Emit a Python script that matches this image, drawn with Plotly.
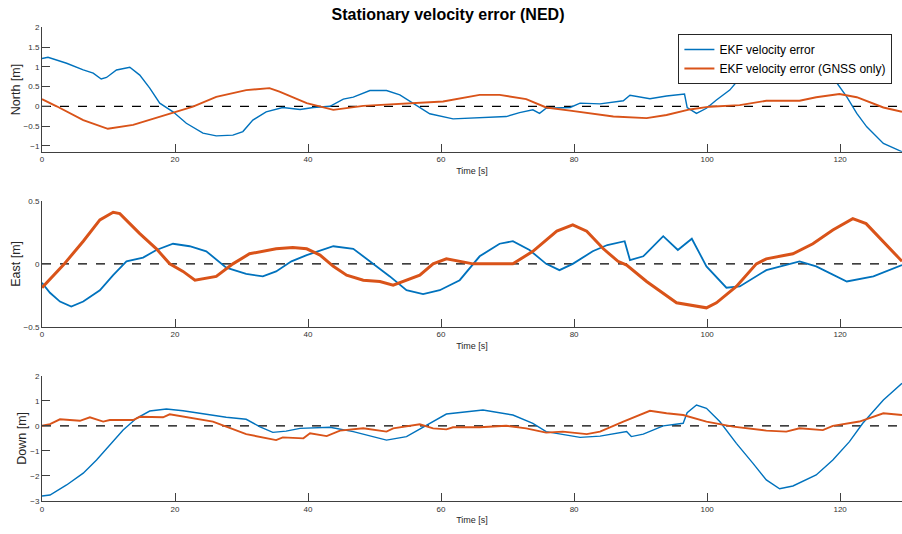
import plotly.graph_objects as go

# ---- North velocity error [m] ----
north_ekf_t = [0, 0.9, 3.7, 6.2, 7.7, 8.9, 9.7, 11.2, 13.2, 14.7, 16.2, 17.7, 19.7, 21.7, 24.2,
               26.2, 28.7, 30.2, 31.7, 33.7, 36.2, 38.8, 40.8, 43.3, 45.3, 46.8, 49.3, 51.8,
               53.8, 55.8, 58.3, 61.8, 65.8, 69.8, 71.8, 73.8, 74.8, 75.8, 79.4, 80.9, 83.9,
               87.4, 88.4, 91.4, 93.9, 96.6, 97.0, 98.4, 99.9, 101.4, 103.4, 104.9, 106.4,
               109.0, 112.0, 114.5, 116.7, 119.0, 121.0, 122.5, 124.0, 126.5, 129.3]
north_ekf_v = [1.21, 1.24, 1.09, 0.92, 0.84, 0.69, 0.73, 0.92, 0.99, 0.79, 0.46, 0.08, -0.14,
               -0.43, -0.68, -0.75, -0.73, -0.64, -0.35, -0.14, -0.03, -0.08, -0.03, 0.0, 0.18,
               0.23, 0.40, 0.40, 0.29, 0.08, -0.19, -0.32, -0.29, -0.26, -0.16, -0.09, -0.18,
               -0.05, -0.03, 0.08, 0.06, 0.14, 0.28, 0.19, 0.26, 0.31, -0.03, -0.18, -0.05,
               0.16, 0.41, 0.71, 1.09, 1.45, 1.65, 1.45, 1.0, 0.71, 0.24, -0.18, -0.52, -0.94,
               -1.15]

north_gnss_t = [0, 2.2, 6.2, 9.9, 13.7, 18.7, 22.7, 26.2, 30.7, 34.2, 35.7, 39.8, 43.8, 48.3,
                55.8, 60.3, 65.8, 68.8, 72.8, 75.8, 79.4, 83.9, 85.9, 90.9, 93.9, 97.4, 100.4,
                104.9, 108.9, 113.9, 116.4, 119.9, 122.5, 126.5, 129.3]
north_gnss_v = [0.18, 0.0, -0.35, -0.57, -0.47, -0.22, -0.01, 0.24, 0.41, 0.46, 0.37, 0.08,
                -0.09, 0.01, 0.08, 0.12, 0.29, 0.29, 0.18, -0.03, -0.11, -0.22, -0.26, -0.30,
                -0.22, -0.08, -0.01, 0.03, 0.14, 0.14, 0.23, 0.31, 0.23, -0.03, -0.14]

# ---- East velocity error [m] ----
east_ekf_t = [0, 1.2, 2.7, 4.4, 6.2, 8.7, 10.7, 12.7, 15.2, 17.2, 19.7, 22.2, 24.7, 27.7, 30.7,
              33.2, 35.2, 37.5, 39.8, 43.8, 46.8, 49.8, 52.3, 54.8, 57.3, 59.8, 62.8, 65.8,
              68.8, 70.8, 73.3, 75.8, 77.8, 79.8, 82.8, 85.0, 87.6, 88.4, 90.4, 93.4, 95.6,
              97.7, 99.9, 102.9, 104.9, 108.9, 113.9, 116.4, 121.0, 125.0, 129.3]
east_ekf_v = [-0.15, -0.23, -0.30, -0.34, -0.30, -0.21, -0.09, 0.02, 0.05, 0.11, 0.16, 0.14,
              0.10, -0.03, -0.08, -0.10, -0.06, 0.02, 0.07, 0.14, 0.12, 0.00, -0.10, -0.21,
              -0.24, -0.21, -0.13, 0.06, 0.16, 0.18, 0.11, 0.00, -0.05, 0.00, 0.10, 0.15, 0.18,
              0.03, 0.06, 0.22, 0.11, 0.20, -0.02, -0.19, -0.18, -0.05, 0.02, -0.02, -0.14,
              -0.10, -0.01]

east_gnss_t = [0, 3.2, 6.2, 8.7, 10.7, 11.7, 14.7, 17.2, 19.2, 21.2, 23.0, 26.2, 28.7, 31.2,
               35.2, 37.7, 39.8, 41.8, 43.8, 45.8, 48.3, 50.8, 52.8, 56.8, 58.8, 60.8, 64.8,
               70.8, 73.8, 77.4, 79.8, 81.9, 84.4, 86.6, 87.9, 90.9, 95.4, 99.9, 101.4, 104.4,
               107.4, 108.9, 112.9, 115.9, 118.9, 121.9, 123.9, 126.9, 129.3]
east_gnss_v = [-0.19, -0.01, 0.18, 0.35, 0.41, 0.40, 0.24, 0.12, 0.00, -0.06, -0.13, -0.10,
               0.00, 0.08, 0.12, 0.13, 0.12, 0.07, -0.02, -0.09, -0.13, -0.14, -0.17, -0.09,
               0.00, 0.04, 0.00, 0.00, 0.10, 0.26, 0.31, 0.26, 0.12, 0.02, -0.01, -0.14, -0.31,
               -0.35, -0.31, -0.18, 0.00, 0.04, 0.08, 0.16, 0.27, 0.36, 0.32, 0.15, 0.02]

# ---- Down velocity error [m] ----
down_ekf_t = [0, 1.2, 3.7, 6.2, 8.2, 10.2, 12.2, 14.2, 16.2, 18.7, 21.2, 23.7, 27.7, 30.7,
              32.7, 34.7, 36.7, 38.8, 43.3, 46.8, 51.8, 54.8, 57.8, 60.8, 66.3, 70.8, 73.8,
              75.8, 80.9, 83.9, 87.9, 88.6, 90.4, 93.4, 96.4, 97.0, 98.4, 99.9, 101.9, 104.4,
              106.9, 108.9, 110.9, 112.9, 116.4, 118.9, 121.4, 123.4, 126.5, 129.3]
down_ekf_v = [-2.80, -2.76, -2.36, -1.89, -1.36, -0.77, -0.17, 0.30, 0.59, 0.67, 0.60, 0.50,
              0.34, 0.26, -0.03, -0.26, -0.21, -0.10, -0.06, -0.23, -0.57, -0.43, 0.03, 0.47,
              0.63, 0.43, 0.10, -0.23, -0.46, -0.41, -0.23, -0.43, -0.33, 0.00, 0.10, 0.52,
              0.83, 0.70, 0.17, -0.70, -1.50, -2.16, -2.51, -2.40, -1.96, -1.36, -0.63, 0.10,
              1.03, 1.70]

down_gnss_t = [0, 1.2, 2.7, 5.7, 7.2, 9.2, 10.2, 13.7, 14.7, 18.2, 19.2, 22.7, 25.7, 27.7,
               30.7, 35.2, 36.2, 39.3, 40.3, 42.8, 44.8, 48.3, 51.8, 52.8, 56.8, 58.8, 60.8,
               61.8, 65.8, 69.8, 72.8, 75.8, 78.3, 81.9, 83.9, 87.4, 91.4, 93.9, 96.4, 99.9,
               103.9, 108.9, 111.9, 113.9, 117.4, 118.9, 122.9, 126.5, 129.3]
down_gnss_v = [0.0, 0.07, 0.26, 0.20, 0.34, 0.17, 0.23, 0.23, 0.36, 0.34, 0.46, 0.30, 0.17,
               -0.03, -0.33, -0.57, -0.46, -0.50, -0.30, -0.41, -0.19, -0.10, -0.23, -0.10,
               0.06, -0.10, -0.14, -0.06, -0.06, 0.0, -0.10, -0.27, -0.23, -0.33, -0.23, 0.17,
               0.60, 0.50, 0.43, 0.17, -0.03, -0.19, -0.23, -0.10, -0.17, 0.0, 0.17, 0.50, 0.43]

x_ticks = [0, 20, 40, 60, 80, 100, 120]
x_range = [0, 129.3]
zero_ref = 0.0

BLUE = "#0072BD"
ORANGE = "#D95319"
AXIS = "#404040"
FONT = "Liberation Sans, Arial, sans-serif"

W, H = 902, 534


def dom(top_px, bottom_px):
    return [1 - bottom_px / H, 1 - top_px / H]


panels = [
    dict(name="North [m]", rng=[-1.15, 2], ticks=[-1, -0.5, 0, 0.5, 1, 1.5, 2],
         dom=dom(27.3, 151.7), ekf=(north_ekf_t, north_ekf_v), gnss=(north_gnss_t, north_gnss_v),
         wb=1.4, wo=1.9),
    dict(name="East [m]", rng=[-0.5, 0.5], ticks=[-0.5, 0, 0.5],
         dom=dom(201, 326.7), ekf=(east_ekf_t, east_ekf_v), gnss=(east_gnss_t, east_gnss_v),
         wb=1.8, wo=3.0),
    dict(name="Down [m]", rng=[-3, 2], ticks=[-3, -2, -1, 0, 1, 2],
         dom=dom(375.7, 501), ekf=(down_ekf_t, down_ekf_v), gnss=(down_gnss_t, down_gnss_v),
         wb=1.4, wo=1.9),
]

fig = go.Figure()
layout = dict(
    width=W, height=H,
    margin=dict(l=42, r=0, t=0, b=0, autoexpand=False),
    paper_bgcolor="white", plot_bgcolor="white",
    font=dict(family=FONT, color="#262626"),
    title=dict(text="<b>Stationary velocity error (NED)</b>", x=448 / W, xanchor="center",
               y=1 - 14 / H, yanchor="middle", font=dict(size=16, color="black", family=FONT)),
    legend=dict(x=0.74, y=1 - 34 / H, xanchor="left", yanchor="top",
                bgcolor="white", bordercolor="#262626", borderwidth=1,
                font=dict(size=12, color="black", family=FONT),
                tracegroupgap=0, itemwidth=30),
    shapes=[],
)

for i, p in enumerate(panels, start=1):
    xa = "x" if i == 1 else f"x{i}"
    ya = "y" if i == 1 else f"y{i}"
    fig.add_trace(go.Scatter(x=p["ekf"][0], y=p["ekf"][1], mode="lines", xaxis=xa, yaxis=ya,
                             line=dict(color=BLUE, width=p["wb"]), name="EKF velocity error",
                             showlegend=(i == 1)))
    fig.add_trace(go.Scatter(x=p["gnss"][0], y=p["gnss"][1], mode="lines", xaxis=xa, yaxis=ya,
                             line=dict(color=ORANGE, width=p["wo"]),
                             name="EKF velocity error (GNSS only)", showlegend=(i == 1)))
    layout["shapes"].append(dict(type="line", xref=xa, yref=ya, x0=x_range[0], x1=x_range[1],
                                 y0=zero_ref, y1=zero_ref, layer="below",
                                 line=dict(color="black", width=1.2, dash="dash")))
    layout["xaxis" if i == 1 else f"xaxis{i}"] = dict(
        domain=[0, 1], anchor=ya, range=x_range, tickvals=x_ticks,
        showline=True, linecolor=AXIS, linewidth=1, ticks="inside", ticklen=8,
        tickcolor=AXIS, showgrid=False, zeroline=False,
        tickfont=dict(size=8, color="#333333"),
        title=dict(text="Time [s]", font=dict(size=9, color="#262626"), standoff=4),
    )
    layout["yaxis" if i == 1 else f"yaxis{i}"] = dict(
        domain=p["dom"], anchor=xa, range=p["rng"], tickvals=p["ticks"],
        showline=True, linecolor=AXIS, linewidth=1, ticks="inside", ticklen=8,
        tickcolor=AXIS, showgrid=False, zeroline=False,
        tickfont=dict(size=8, color="#333333"),
        title=dict(text=p["name"], font=dict(size=12.5, color="#262626"), standoff=0),
    )

fig.update_layout(**layout)
fig.write_html("out.html")
